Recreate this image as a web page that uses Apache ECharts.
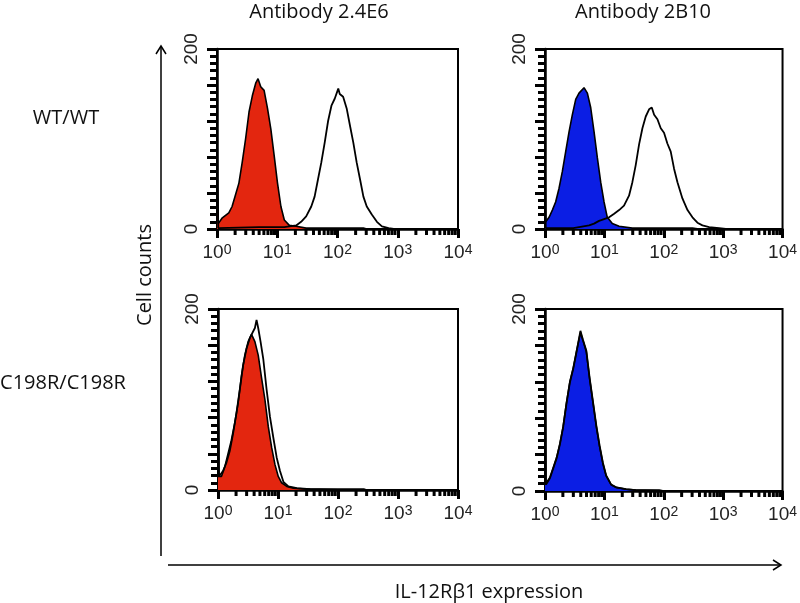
<!DOCTYPE html>
<html>
<head>
<meta charset="utf-8">
<script src="https://cdn.jsdelivr.net/npm/echarts@6/dist/echarts.min.js"></script>
<style>
  html, body { margin: 0; padding: 0; background: #fff; }
  #chart { width: 800px; height: 603px; }
</style>
</head>
<body>
<div id="chart"></div>
<script>
// histogram points: [fluorescence, cell count]
const wt24Fill = [[1, 53], [1.05, 6], [1.21, 12], [1.57, 18], [1.78, 25], [2.03, 38], [2.31, 51], [2.62, 74], [2.98, 100], [3.4, 130], [3.86, 148], [4.39, 162], [4.8, 167], [5.32, 158], [6.05, 154], [6.89, 134], [7.83, 111], [8.91, 81], [10.1, 51], [11.5, 25], [13.1, 10], [15.9, 4], [20.6, 3], [30.2, 1], [57.5, 1], [109, 1], [269, 1], [306, 0], [10000, 0]];
const wt24Open = [[1, 100], [1.05, 1], [5, 2], [10, 2], [13.1, 2], [15.9, 3], [20.6, 4], [24.9, 8], [30.2, 14], [36.7, 25], [41.7, 36], [47.4, 55], [53.9, 74], [61.3, 96], [69.8, 120], [79.3, 137], [90.2, 145], [103, 156], [109, 150], [124, 147], [142, 134], [161, 115], [183, 96], [208, 74], [237, 55], [269, 36], [306, 25], [371, 16], [451, 8], [546, 3], [707, 1], [857, 0], [10000, 0]];
const wt2bFill = [[1, 7], [1.17, 13], [1.33, 21], [1.51, 30], [1.72, 45], [1.96, 64], [2.23, 86], [2.54, 108], [2.89, 127], [3.29, 144], [3.74, 151], [4.54, 157], [5.17, 151], [5.88, 135], [6.7, 108], [7.62, 79], [8.67, 52], [9.87, 30], [11.2, 13], [13.6, 6], [17.7, 3], [29.6, 1], [64.4, 1], [304, 1], [394, 0], [10000, 0]];
const wt2bOpen = [[1, 79], [1.03, 1], [3, 1], [5.52, 4], [6.7, 6], [8.13, 9], [9.87, 11], [12, 13], [14.6, 17], [17.7, 21], [21.4, 26], [26, 37], [29.6, 52], [33.7, 71], [38.4, 94], [43.7, 112], [49.7, 125], [56.6, 133], [62.8, 135], [68.8, 127], [78.2, 122], [89, 112], [101, 107], [115, 95], [131, 86], [149, 67], [170, 52], [206, 34], [251, 21], [304, 13], [369, 7], [448, 4], [581, 2], [857, 1], [1109, 0], [10000, 0]];
const ko24Fill = [[1, 15], [1.14, 15], [1.29, 25], [1.47, 40], [1.67, 55], [1.9, 74], [2.16, 96], [2.46, 126], [2.8, 149], [3.18, 164], [3.62, 172], [4.12, 164], [4.68, 149], [5.32, 124], [6.05, 100], [6.89, 70], [7.83, 47], [8.91, 28], [10.1, 15], [11.5, 8], [14, 4], [18.1, 2], [30.2, 1], [269, 1], [300, 0], [10000, 0]];
const ko24Open = [[1, 109], [1.04, 15], [1.07, 15], [1.21, 21], [1.38, 30], [1.57, 43], [1.78, 62], [2.03, 85], [2.31, 111], [2.62, 138], [2.98, 156], [3.4, 168], [4.12, 179], [4.39, 188], [4.68, 179], [5.12, 164], [5.68, 145], [6.46, 111], [7.34, 81], [8.35, 58], [9.5, 36], [10.8, 21], [12.3, 9], [14.9, 4], [20.6, 2], [34.4, 1], [100, 0], [10000, 0]];
const ko2bFill = [[1, 7], [1.07, 7], [1.21, 15], [1.38, 26], [1.57, 37], [1.78, 52], [2.02, 71], [2.3, 97], [2.62, 120], [2.98, 135], [3.38, 153], [3.95, 174], [4.37, 165], [4.97, 153], [5.65, 123], [6.43, 97], [7.31, 71], [8.3, 49], [9.44, 30], [10.7, 17], [13, 7], [15.8, 4], [23.2, 2], [34, 1], [83.6, 1], [100, 0], [10000, 0]];
const ko2bOpen = [[1, 108], [1.04, 7], [1.21, 14], [1.38, 25], [1.57, 36], [1.78, 51], [2.02, 70], [2.3, 96], [2.62, 119], [2.98, 134], [3.38, 152], [3.95, 176], [4.37, 166], [4.97, 154], [5.65, 124], [6.43, 98], [7.31, 72], [8.3, 50], [9.44, 31], [10.7, 17], [13, 7], [15.8, 4], [23.2, 2], [34, 1], [100, 0], [10000, 0]];

const minorTicks = [2, 3, 4, 5, 6, 7, 8, 9, 20, 30, 40, 50, 60, 70, 80, 90, 200, 300, 400, 500, 600, 700, 800, 900, 2000, 3000, 4000, 5000, 6000, 7000, 8000, 9000];
const yLabels = [0, 200];
const colTitles = ['Antibody 2.4E6', 'Antibody 2B10'];
const rowTitles = ['WT/WT', 'C198R/C198R'];

const RED = '#e3260f';
const BLUE = '#0b1ee4';
const LABEL_FONT = '"Open Sans", sans-serif';
const AXIS_FONT = '"Liberation Sans", Arial, sans-serif';

const grids = [
  { left: 217, top: 49, width: 241, height: 180 },
  { left: 545, top: 49, width: 239, height: 180 },
  { left: 218, top: 309, width: 240, height: 181 },
  { left: 545, top: 309, width: 239, height: 182 }
];
const panels = [
  { fill: wt24Fill, open: wt24Open, color: RED },
  { fill: wt2bFill, open: wt2bOpen, color: BLUE },
  { fill: ko24Fill, open: ko24Open, color: RED },
  { fill: ko2bFill, open: ko2bOpen, color: BLUE }
];

const series = [];
panels.forEach((p, i) => {
  series.push({
    type: 'line', xAxisIndex: i, yAxisIndex: i, data: p.fill,
    symbol: 'none', lineStyle: { color: '#000', width: 1.6 },
    areaStyle: { color: p.color, opacity: 1 }, z: 2
  });
  series.push({
    type: 'line', xAxisIndex: i, yAxisIndex: i, data: p.open,
    symbol: 'none', lineStyle: { color: '#000', width: 1.8 }, z: 3
  });
  // log-spaced minor ticks under the x axis
  series.push({
    type: 'custom', xAxisIndex: i, yAxisIndex: i, clip: false, silent: true, z: 4,
    data: minorTicks.map(v => [v, 0]),
    renderItem: (params, api) => {
      const pt = api.coord([api.value(0), 0]);
      return {
        type: 'line',
        shape: { x1: pt[0], y1: pt[1], x2: pt[0], y2: pt[1] + 6 },
        style: { stroke: '#000', lineWidth: 3 }
      };
    }
  });
});

const graphic = [];
colTitles.forEach((t, i) => {
  graphic.push({ type: 'text', x: [319, 643][i], y: 12, style: { text: t, font: '20px ' + LABEL_FONT, fill: '#111', textAlign: 'center', textVerticalAlign: 'middle' } });
});
rowTitles.forEach((t, i) => {
  graphic.push({ type: 'text', x: [66, 63][i], y: [118, 383][i], style: { text: t, font: '20px ' + LABEL_FONT, fill: '#111', textAlign: 'center', textVerticalAlign: 'middle' } });
});
graphic.push(
  { type: 'text', x: 145, y: 275, rotation: Math.PI / 2, style: { text: 'Cell counts', font: '20px ' + LABEL_FONT, fill: '#111', textAlign: 'center', textVerticalAlign: 'middle' } },
  { type: 'text', x: 489, y: 592, style: { text: 'IL-12Rβ1 expression', font: '20px ' + LABEL_FONT, fill: '#111', textAlign: 'center', textVerticalAlign: 'middle' } },
  { type: 'polyline', shape: { points: [[161, 556], [161, 46]] }, style: { stroke: '#000', lineWidth: 1.5, fill: null } },
  { type: 'polyline', shape: { points: [[156, 54], [161, 46], [166, 54]] }, style: { stroke: '#000', lineWidth: 1.5, fill: null } },
  { type: 'polyline', shape: { points: [[168, 565], [781, 565]] }, style: { stroke: '#000', lineWidth: 1.5, fill: null } },
  { type: 'polyline', shape: { points: [[773, 560], [781, 565], [773, 570]] }, style: { stroke: '#000', lineWidth: 1.5, fill: null } }
);

const chart = echarts.init(document.getElementById('chart'));
chart.setOption({
  animation: false,
  backgroundColor: '#fff',
  grid: grids.map(g => Object.assign({ show: true, borderColor: '#000', borderWidth: 2 }, g)),
  xAxis: grids.map((g, i) => ({
    gridIndex: i, type: 'log', logBase: 10, min: 1, max: 10000,
    axisLine: { lineStyle: { color: '#000', width: 2.5 } },
    axisTick: { length: 9, lineStyle: { color: '#000', width: 3 } },
    splitLine: { show: false },
    axisLabel: {
      margin: 14,
      formatter: v => '{b|10}{s|' + Math.round(Math.log10(v)) + '}',
      rich: {
        b: { fontSize: 19, fontFamily: AXIS_FONT, color: '#222' },
        s: { fontSize: 14, fontFamily: AXIS_FONT, color: '#222', verticalAlign: 'top' }
      }
    }
  })),
  yAxis: grids.map((g, i) => ({
    gridIndex: i, type: 'value', min: 0, max: 200, interval: 40,
    axisLine: { show: true, lineStyle: { color: '#000', width: 2.5 } },
    axisTick: { show: true, length: 10, lineStyle: { color: '#000', width: 3 } },
    minorTick: { show: true, splitNumber: 5, length: 7, lineStyle: { color: '#000', width: 3 } },
    splitLine: { show: false },
    axisLabel: {
      rotate: 90, margin: 16, fontSize: 19, fontFamily: AXIS_FONT, color: '#222',
      formatter: v => (yLabels.includes(v) ? String(v) : '')
    }
  })),
  series: series,
  graphic: graphic
});
</script>
</body>
</html>
